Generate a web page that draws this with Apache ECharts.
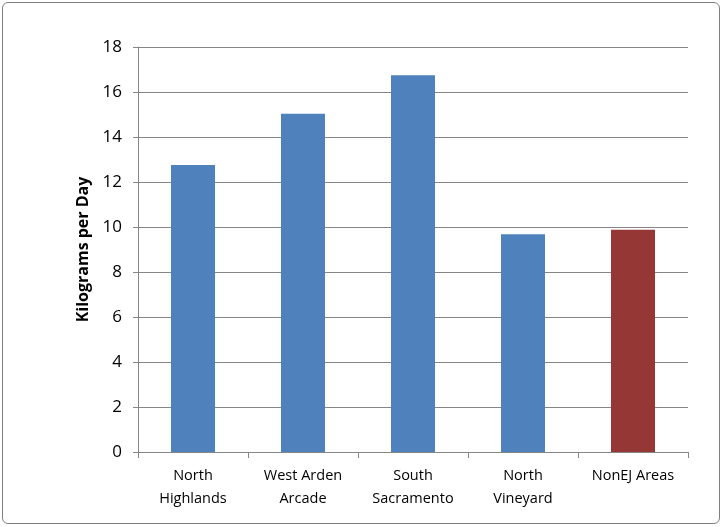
<!DOCTYPE html>
<html>
<head>
<meta charset="utf-8">
<script src="https://cdn.jsdelivr.net/npm/echarts@6/dist/echarts.min.js"></script>
<style>
  html, body { margin: 0; padding: 0; background: #fff; }
  #frame { position: absolute; left: 2px; top: 2px; width: 716px; height: 520px;
           border: 1px solid #7f7f7f; border-radius: 6px; }
  #chart { position: absolute; left: 0; top: 0; width: 724px; height: 527px; }
</style>
</head>
<body>
<div id="frame"></div>
<div id="chart"></div>
<script>
(function () {
  const categories = ['North\nHighlands', 'West Arden\nArcade', 'South\nSacramento', 'North\nVineyard', 'NonEJ Areas']
  const values = [12.76, 15.03, 16.74, 9.68, 9.88]
  const barColors = ['#4F81BD', '#4F81BD', '#4F81BD', '#4F81BD', '#953735']
  const yTicks = { min: 0, max: 18, interval: 2 }

  const font = 'Open Sans, Liberation Sans, sans-serif'
  var chart = echarts.init(document.getElementById('chart'))
  option = {
    animation: false,
    grid: { left: 138, right: 36, top: 47, bottom: 75 },
    xAxis: {
      type: 'category',
      data: categories,
      axisLine: { lineStyle: { color: '#868686', width: 1 } },
      axisTick: { show: true, alignWithLabel: false, length: 6, lineStyle: { color: '#868686' } },
      axisLabel: { color: '#000', fontFamily: font, fontSize: 14.5, lineHeight: 23, margin: 12, interval: 0 }
    },
    yAxis: {
      type: 'value',
      min: yTicks.min,
      max: yTicks.max,
      interval: yTicks.interval,
      name: 'Kilograms per Day',
      nameLocation: 'middle',
      nameGap: 46,
      nameTextStyle: { color: '#000', fontFamily: font, fontSize: 16, fontWeight: 'bold' },
      axisLine: { show: true, lineStyle: { color: '#868686' } },
      axisTick: { show: true, length: 5, lineStyle: { color: '#868686' } },
      axisLabel: { color: '#000', fontFamily: font, fontSize: 17, margin: 16 },
      splitLine: { lineStyle: { color: '#868686', width: 1 } }
    },
    series: [{
      type: 'bar',
      barWidth: '40%',
      data: values.map((v, i) => ({ value: v, itemStyle: { color: barColors[i] } }))
    }]
  }
  chart.setOption(option)
})();
</script>
</body>
</html>
